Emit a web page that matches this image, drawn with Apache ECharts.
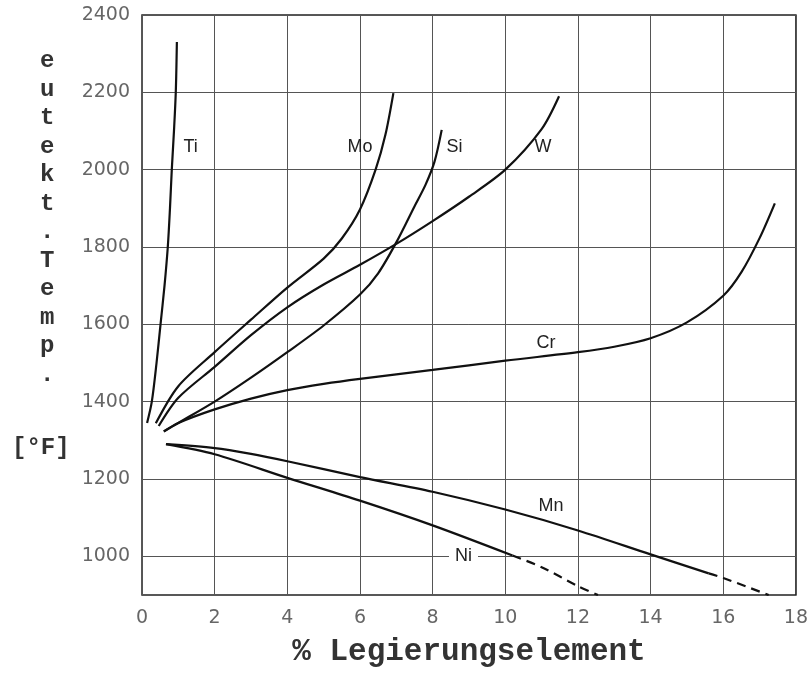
<!DOCTYPE html>
<html>
<head>
<meta charset="utf-8">
<script src="https://cdn.jsdelivr.net/npm/echarts@6/dist/echarts.min.js"></script>
<style>html,body{margin:0;padding:0;background:#fff;}#c{width:811px;height:673px;}</style>
</head>
<body>
<div id="c"></div>
<script>
// x: % alloying element, y: eutectoid temperature [°F]
const ti = [[0.14,1345],[0.27,1400],[0.40,1500],[0.51,1600],[0.62,1700],[0.71,1800],[0.77,1900],[0.82,2000],[0.88,2100],[0.93,2200],[0.96,2330]];
const mo = [[0.38,1344],[1,1440],[2,1528],[3,1612],[4,1695],[5,1770],[5.5,1822],[6,1897],[6.43,2000],[6.7,2090],[6.92,2198]];
const w  = [[0.46,1337],[1,1410],[2,1490],[3,1572],[4,1644],[5,1703],[6,1754],[7,1808],[8,1867],[9,1930],[10,2000],[11,2105],[11.48,2190]];
const si = [[0.6,1323],[1,1345],[2,1400],[3,1462],[4,1528],[5,1597],[6,1677],[6.5,1732],[7,1812],[7.5,1905],[7.8,1960],[8.05,2020],[8.25,2103]];
const cr = [[0.6,1323],[1,1345],[2,1380],[3,1408],[4,1430],[5,1446],[6,1459],[8,1482],[10,1506],[12,1528],[13,1542],[14,1564],[15,1605],[16,1674],[16.5,1735],[17,1823],[17.42,1913]];
const mnSolid = [[0.66,1290],[2,1280],[3,1265],[4,1246],[6,1205],[8,1167],[10,1121],[12,1067],[14,1005],[15.6,956]];
const mnDash  = [[15.6,956],[16,944],[17.25,900]];
const niSolid = [[0.66,1290],[2,1264],[4,1203],[6,1144],[8,1080],[10.2,1002]];
const niDash  = [[10.2,1002],[11,972],[12,923],[12.55,900]];
const xTicks = [0,2,4,6,8,10,12,14,16,18];
const yTicks = [1000,1200,1400,1600,1800,2000,2200,2400];

const chart = echarts.init(document.getElementById('c'), null, {renderer:'canvas'});
const lineBase = {type:'line', showSymbol:false, smooth:0.3, lineStyle:{color:'#111', width:2.2}, z:5, animation:false};
function lbl(name, x, y){
  return {name:name, coord:[x,y]};
}
const markLbl = (arr, bg) => ({
  symbol:'circle', symbolSize:0, animation:false,
  label:{show:true, position:'inside', formatter:'{b}', color:'#222', fontSize:18,
    fontFamily:'Liberation Sans, Arial, sans-serif',
    backgroundColor: bg ? '#fff' : 'transparent', padding: bg ? [0,6] : 0},
  data: arr
});
chart.setOption({
  animation:false,
  backgroundColor:'#fff',
  grid:{left:142, right:12, top:15, bottom:74, show:true, borderColor:'#222', borderWidth:1.5},
  xAxis:{type:'value', min:0, max:18, interval:2,
    axisLine:{show:false}, axisTick:{show:false},
    axisLabel:{color:'#666', fontSize:19, fontFamily:'DejaVu Sans, sans-serif', margin:14,
      formatter:v => xTicks.includes(v) ? String(v) : ''},
    splitLine:{show:true, lineStyle:{color:'#555', width:1}},
    name:'% Legierungselement', nameLocation:'middle', nameGap:42,
    nameTextStyle:{fontFamily:'Liberation Mono, Courier New, monospace', fontSize:31, fontWeight:'bold', color:'#333'}
  },
  yAxis:{type:'value', min:900, max:2400, interval:100,
    axisLine:{show:false}, axisTick:{show:false},
    axisLabel:{color:'#666', fontSize:19, fontFamily:'DejaVu Sans, sans-serif', margin:12,
      formatter:v => yTicks.includes(v) ? String(v) : ''},
    splitLine:{show:true, lineStyle:{color:['rgba(0,0,0,0)','#555'], width:1}}
  },
  graphic:[
    {type:'text', left:40, top:47, style:{text:'e\nu\nt\ne\nk\nt\n.\nT\ne\nm\np\n.', font:'bold 24px "Liberation Mono", monospace', fill:'#333', lineHeight:28.5, align:'left'}},
    {type:'text', left:12, top:436, style:{text:'[°F]', font:'bold 24px "Liberation Mono", monospace', fill:'#333'}}
  ],
  series:[
    Object.assign({}, lineBase, {name:'Ti', data:ti, markPoint:markLbl([lbl('Ti',1.34,2058)])}),
    Object.assign({}, lineBase, {name:'Mo', data:mo, markPoint:markLbl([lbl('Mo',6.0,2058)])}),
    Object.assign({}, lineBase, {name:'W', data:w, markPoint:markLbl([lbl('W',11.04,2058)])}),
    Object.assign({}, lineBase, {name:'Si', data:si, markPoint:markLbl([lbl('Si',8.6,2058)])}),
    Object.assign({}, lineBase, {name:'Cr', data:cr, markPoint:markLbl([lbl('Cr',11.12,1552)])}),
    Object.assign({}, lineBase, {name:'Mn', data:mnSolid, markPoint:markLbl([lbl('Mn',11.26,1129)])}),
    Object.assign({}, lineBase, {name:'Mn-', data:mnDash, lineStyle:{color:'#111', width:2.2, type:[9,6]}}),
    Object.assign({}, lineBase, {name:'Ni', data:niSolid, markPoint:markLbl([lbl('Ni',8.85,1000)], true)}),
    Object.assign({}, lineBase, {name:'Ni-', data:niDash, lineStyle:{color:'#111', width:2.2, type:[9,6]}})
  ]
});
</script>
</body>
</html>
